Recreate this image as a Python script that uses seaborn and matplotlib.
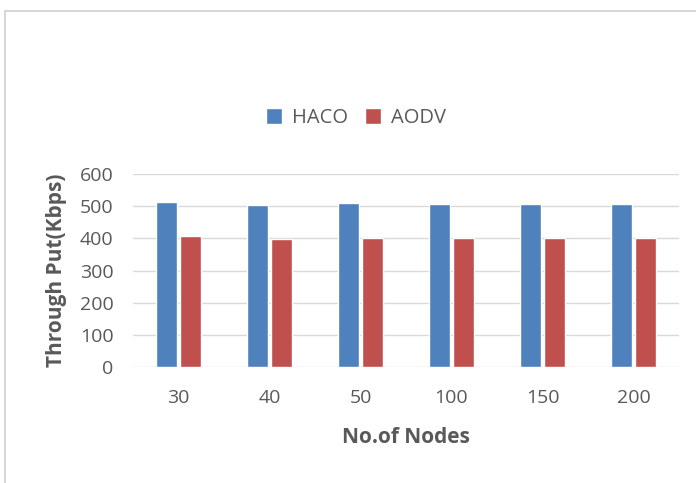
import pandas as pd
import matplotlib.pyplot as plt
import seaborn as sns
from matplotlib.patches import Rectangle

# values
nodes = ['30', '40', '50', '100', '150', '200']
haco = [513, 504, 510, 506, 508, 508]
aodv = [406, 397, 402, 400, 400, 402]

df = pd.DataFrame({
    'nodes': nodes * 2,
    'throughput': haco + aodv,
    'protocol': ['HACO'] * len(nodes) + ['AODV'] * len(nodes),
})

sns.set_theme(style='white')
plt.rcParams['font.family'] = ['Open Sans', 'DejaVu Sans']
text_col = '#595959'

fig = plt.figure(figsize=(6.96, 4.83), dpi=100)
fig.patch.set_facecolor('white')
# light frame around the chart area
fig.patches.append(Rectangle((5 / 696, -0.05), 2.0, 1 - 11 / 483 + 0.05,
                             transform=fig.transFigure, fill=False,
                             edgecolor='#d0d0d0', linewidth=1.2))

ax = fig.add_axes([133 / 696, 1 - 367 / 483, 546 / 696, 193 / 483])
sns.barplot(data=df, x='nodes', y='throughput', hue='protocol',
            palette=['#4F81BD', '#C0504D'], width=0.52, gap=0.12,
            saturation=1, ax=ax)

ax.set_ylim(0, 600)
ax.set_yticks(range(0, 601, 100))
ax.yaxis.grid(True, color='#d9d9d9', linewidth=1)
ax.set_axisbelow(True)
for s in ax.spines.values():
    s.set_visible(False)
ax.tick_params(axis='both', length=0, labelsize=14, colors=text_col)
ax.tick_params(axis='y', pad=14)
ax.tick_params(axis='x', pad=16)

ax.set_xlabel('No.of Nodes', fontsize=15, fontweight='bold', color=text_col, labelpad=14)
ax.set_ylabel('Through Put(Kbps)', fontsize=15, fontweight='bold', color=text_col, labelpad=9)

ax.legend(loc='center', bbox_to_anchor=(356 / 696, 1 - 118 / 483),
          bbox_transform=fig.transFigure, ncol=2, frameon=False,
          fontsize=14.5, handlelength=0.8, handleheight=0.8,
          handletextpad=0.5, columnspacing=0.8, labelcolor=text_col)

fig.savefig('out.png', dpi=100)
